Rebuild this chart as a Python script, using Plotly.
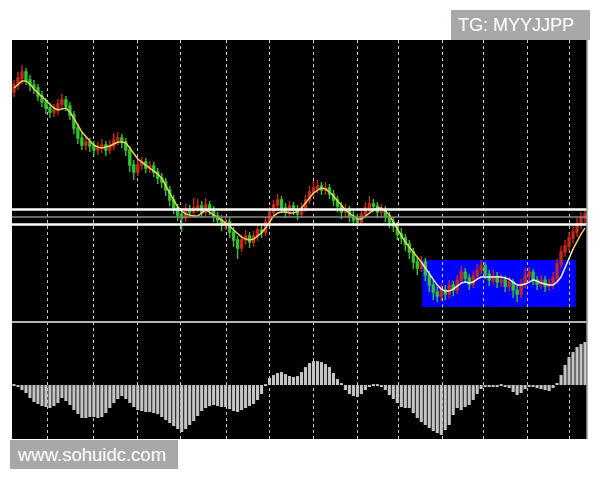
import plotly.graph_objects as go
from plotly.subplots import make_subplots

# bar data (price in points, 144 bars)
OPEN = [308, 315, 322, 328, 320, 315, 312, 304, 298, 292, 288, 290, 296, 300, 294, 285, 272, 262, 255, 258,
        254, 250, 252, 255, 250, 254, 260, 262, 258, 250, 235, 228, 235, 238, 232, 234, 228, 222, 218, 210,
        200, 192, 185, 182, 190, 188, 192, 194, 188, 195, 190, 184, 180, 175, 178, 168, 160, 152, 160, 164,
        158, 164, 170, 168, 178, 188, 195, 200, 192, 188, 194, 190, 186, 192, 200, 208, 212, 214, 210, 212,
        206, 200, 194, 188, 190, 184, 180, 178, 186, 192, 196, 194, 188, 190, 184, 178, 174, 166, 162, 156,
        148, 138, 132, 138, 125, 115, 108, 104, 110, 106, 115, 110, 120, 128, 122, 116, 124, 130, 134, 126,
        120, 124, 118, 120, 114, 118, 110, 106, 116, 124, 128, 120, 116, 120, 114, 116, 122, 136, 148, 154,
        162, 168, 176, 182]
CLOSE = [315, 322, 328, 320, 315, 312, 304, 298, 292, 288, 290, 296, 300, 294, 285, 272, 262, 255, 258, 254,
         250, 252, 255, 250, 254, 260, 262, 258, 250, 235, 228, 235, 238, 232, 234, 228, 222, 218, 210, 200,
         192, 185, 182, 190, 188, 192, 194, 188, 195, 190, 184, 180, 175, 178, 168, 160, 152, 160, 164, 158,
         164, 170, 168, 178, 188, 195, 200, 192, 188, 194, 190, 186, 192, 200, 208, 212, 214, 210, 212, 206,
         200, 194, 188, 190, 184, 180, 178, 186, 192, 196, 194, 188, 190, 184, 178, 174, 166, 162, 156, 148,
         138, 132, 138, 125, 115, 108, 104, 110, 106, 115, 110, 120, 128, 122, 116, 124, 130, 134, 126, 120,
         124, 118, 120, 114, 118, 110, 106, 116, 124, 128, 120, 116, 120, 114, 116, 122, 136, 148, 154, 162,
         168, 176, 182, 186]
HIGH = [320, 328, 335, 332, 325, 320, 316, 309, 302, 297, 296, 301, 306, 304, 298, 289, 276, 267, 264, 262,
        259, 258, 261, 259, 260, 267, 268, 266, 262, 254, 240, 241, 243, 242, 239, 238, 232, 227, 222, 214,
        205, 196, 190, 196, 195, 202, 201, 199, 202, 199, 194, 188, 185, 184, 182, 173, 164, 165, 170, 168,
        169, 175, 176, 183, 193, 200, 206, 204, 197, 199, 198, 195, 197, 205, 214, 219, 220, 218, 218, 216,
        210, 204, 198, 196, 194, 189, 186, 192, 198, 204, 201, 198, 196, 194, 188, 183, 178, 172, 166, 160,
        152, 143, 144, 142, 129, 120, 113, 116, 115, 120, 119, 125, 134, 132, 126, 129, 136, 140, 138, 130,
        130, 128, 126, 124, 123, 121, 114, 121, 132, 133, 131, 124, 125, 124, 121, 128, 141, 154, 160, 168,
        174, 182, 188, 190]
LOW = [303, 310, 316, 315, 309, 306, 299, 293, 286, 282, 283, 285, 291, 289, 280, 266, 256, 250, 250, 248,
       244, 245, 247, 244, 246, 250, 255, 252, 244, 228, 220, 224, 230, 227, 227, 223, 216, 212, 204, 194,
       186, 179, 168, 178, 183, 184, 188, 183, 184, 185, 178, 174, 169, 170, 162, 153, 141, 148, 155, 152,
       153, 159, 162, 164, 174, 183, 190, 187, 182, 184, 185, 180, 182, 188, 196, 203, 207, 205, 205, 201,
       194, 188, 181, 183, 178, 174, 172, 174, 182, 188, 188, 182, 183, 178, 172, 168, 160, 156, 149, 141,
       131, 125, 128, 119, 108, 100, 98, 99, 100, 102, 104, 106, 116, 117, 110, 112, 120, 126, 121, 114,
       115, 112, 113, 108, 109, 102, 98, 102, 112, 119, 115, 110, 111, 108, 109, 111, 118, 132, 143, 149,
       157, 163, 171, 177]
MA = [312, 316, 319, 319, 316, 311, 307, 303, 299, 295, 292, 290, 291, 292, 288, 282, 275, 268, 263, 259,
      255, 253, 252, 253, 254, 256, 258, 258, 257, 252, 246, 241, 238, 235, 232, 229, 226, 222, 214, 207,
      200, 193, 189, 186, 185, 184, 184, 187, 190, 188, 185, 183, 180, 177, 174, 170, 166, 163, 161, 160,
      161, 164, 167, 172, 178, 184, 187, 188, 188, 187, 187, 189, 192, 197, 202, 207, 210, 212, 211, 208,
      204, 199, 194, 190, 187, 184, 181, 181, 184, 187, 190, 192, 192, 189, 185, 178, 171, 164, 158, 153,
      148, 143, 138, 132, 126, 120, 115, 111, 109, 109, 111, 114, 117, 118, 117, 118, 121, 123, 123, 123,
      123, 123, 123, 122, 121, 118, 115, 115, 116, 118, 120, 119, 117, 116, 115, 115, 118, 123, 132, 142,
      151, 159, 166, 172]
OSC = [-1, -2, -5, -8, -13, -17, -19, -21, -22, -23, -21, -18, -13, -16, -20, -25, -29, -33, -33, -32,
       -32, -33, -32, -28, -23, -18, -14, -11, -14, -18, -22, -25, -26, -27, -27, -28, -29, -32, -35, -38,
       -41, -44, -47, -44, -40, -36, -31, -26, -23, -21, -20, -21, -22, -22, -24, -26, -27, -25, -23, -21,
       -19, -15, -9, -1, 7, 10, 12, 13, 11, 9, 8, 9, 13, 18, 22, 24, 24, 23, 21, 18,
       12, 6, 1, -5, -9, -11, -12, -9, -5, -2, -1, -1, -2, -5, -10, -14, -18, -22, -23, -23,
       -28, -33, -37, -40, -43, -46, -48, -50, -45, -40, -30, -23, -25, -22, -20, -15, -9, -4, -2, -2,
       -2, -2, -1, -2, -3, -7, -10, -8, -4, -2, -2, -3, -4, -5, -6, -3, 2, 10, 20, 28,
       33, 38, 41, 43]

N = len(CLOSE)
for name, arr in [("OPEN", OPEN), ("HIGH", HIGH), ("LOW", LOW), ("MA", MA), ("OSC", OSC)]:
    assert len(arr) == N, (name, len(arr))
BARS = list(range(N))

LEVELS_WHITE = [190.5, 175.5]
LEVEL_GREY = 183
BOX = dict(x0=102.2, x1=140.7, y0=93, y1=140)
GRID_X = [8.3, 20.0, 31.0, 41.6, 53.3, 63.9, 74.9, 86.1, 96.2, 107.4, 117.5, 128.5, 139.0]

fig = make_subplots(rows=2, cols=1, shared_xaxes=True, vertical_spacing=0,
                    row_heights=[0.707, 0.293])

fig.add_trace(go.Candlestick(
    x=BARS, open=OPEN, high=HIGH, low=LOW, close=CLOSE,
    increasing=dict(line=dict(color="#c8261c", width=1.4), fillcolor="#c8261c"),
    decreasing=dict(line=dict(color="#2fc42f", width=1.4), fillcolor="#2fc42f"),
    whiskerwidth=0, showlegend=False, hoverinfo="skip"), row=1, col=1)

# moving average: yellow on black, paler over the blue box
fig.add_trace(go.Scatter(x=BARS[:103], y=MA[:103], mode="lines",
                         line=dict(color="#e8d060", width=1.5), showlegend=False), row=1, col=1)
fig.add_trace(go.Scatter(x=BARS[102:141], y=MA[102:141], mode="lines",
                         line=dict(color="#f4f0d8", width=1.5), showlegend=False), row=1, col=1)
fig.add_trace(go.Scatter(x=BARS[140:], y=MA[140:], mode="lines",
                         line=dict(color="#e8d060", width=1.5), showlegend=False), row=1, col=1)

fig.add_trace(go.Bar(x=BARS, y=OSC, marker=dict(color="#c4c4c4", line=dict(width=0)),
                     showlegend=False, hoverinfo="skip"), row=2, col=1)

fig.add_shape(type="rect", xref="x", yref="y", layer="below", line=dict(width=0),
              fillcolor="#0000ff", **BOX)
for lv in LEVELS_WHITE:
    fig.add_shape(type="line", xref="paper", yref="y", x0=0, x1=1, y0=lv, y1=lv,
                  line=dict(color="#ffffff", width=2.5))
fig.add_shape(type="line", xref="paper", yref="y", x0=0, x1=1, y0=LEVEL_GREY, y1=LEVEL_GREY,
              line=dict(color="#8a8a8a", width=1.5))

# panel separator and right edge
fig.add_shape(type="line", xref="paper", yref="paper", x0=0, x1=1, y0=0.293, y1=0.293,
              line=dict(color="#b4b4b4", width=2))
fig.add_shape(type="line", xref="paper", yref="paper", x0=1, x1=1, y0=0, y1=1,
              line=dict(color="#9a9a9a", width=1.5))

# watermarks
fig.add_shape(type="rect", xref="paper", yref="paper", x0=0.7635, x1=1.0052, y0=1.0, y1=1.0752,
              fillcolor="#a8a8a8", line=dict(width=0))
fig.add_annotation(text="TG: MYYJJPP", xref="paper", yref="paper", x=0.8757, y=1.0376,
                   xanchor="center", yanchor="middle", showarrow=False,
                   font=dict(family="Liberation Sans, Arial", size=18, color="#ffffff"))
fig.add_shape(type="rect", xref="paper", yref="paper", x0=-0.0035, x1=0.2887, y0=-0.0752, y1=-0.0025,
              fillcolor="#a8a8a8", line=dict(width=0))
fig.add_annotation(text="www.sohuidc.com", xref="paper", yref="paper", x=0.1383, y=-0.0401,
                   xanchor="center", yanchor="middle", showarrow=False,
                   font=dict(family="Liberation Sans, Arial", size=18.5, color="#ffffff"))

fig.update_xaxes(range=[-0.5, N - 0.5], tickvals=GRID_X, showticklabels=False, ticks="",
                 showgrid=True, gridcolor="#c8c8c8", griddash="dot", gridwidth=1,
                 zeroline=False, showline=False, rangeslider_visible=False)
fig.update_yaxes(range=[78, 360], showgrid=False, zeroline=False, showticklabels=False,
                 ticks="", row=1, col=1)
fig.update_yaxes(range=[-54, 63], showgrid=False, zeroline=False, showticklabels=False,
                 ticks="", row=2, col=1)

# page body adds 8px, so the plot area sits at 12..587 x 40..439 on screen
fig.update_layout(
    width=592, height=472,
    margin=dict(l=4, r=13, t=32, b=41),
    paper_bgcolor="#ffffff", plot_bgcolor="#000000",
    bargap=0.22, showlegend=False, hovermode=False,
)

fig.write_html("out.html")
